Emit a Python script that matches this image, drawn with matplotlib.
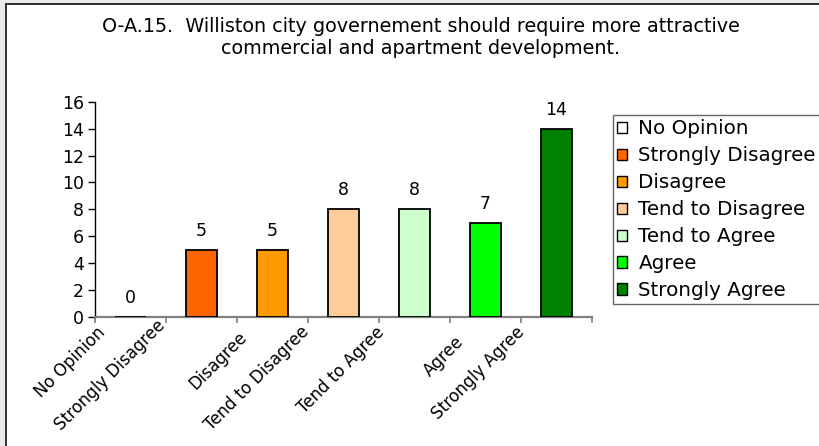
import matplotlib
matplotlib.use("Agg")
import matplotlib.pyplot as plt
from matplotlib.patches import Rectangle, Patch
from matplotlib.transforms import blended_transform_factory

# ---- data ----
categories = ["No Opinion", "Strongly Disagree", "Disagree", "Tend to Disagree",
              "Tend to Agree", "Agree", "Strongly Agree"]
values = [0, 5, 5, 8, 8, 7, 14]
colors = ["#FFFFFF", "#FF6600", "#FF9900", "#FFCC99", "#CCFFCC", "#00FF00", "#008000"]
yticks = [0, 2, 4, 6, 8, 10, 12, 14, 16]
title = "O-A.15.  Williston city governement should require more attractive\ncommercial and apartment development."

# ---- layout (pixels in an 820x446 canvas) ----
W, H, DPI = 820, 446, 100
FONT = "DejaVu Sans"
plt.rcParams['font.family'] = [FONT]

fig = plt.figure(figsize=(W / DPI, H / DPI), dpi=DPI)
fig.patch.set_facecolor("white")

def fx(px):
    return px / W

def fy(py):
    return 1 - py / H

ax_left, ax_right, ax_top, ax_bottom = 95, 592, 101.7, 317
ax = fig.add_axes([fx(ax_left), fy(ax_bottom), fx(ax_right - ax_left), (ax_bottom - ax_top) / H])

x = list(range(len(categories)))
bars = ax.bar(x, values, width=0.43, color=colors, edgecolor="black", linewidth=1.3, zorder=3)
ax.set_xlim(-0.5, len(categories) - 0.5)
ax.set_ylim(0, 16)
ax.set_yticks(yticks)
ax.set_yticklabels([str(t) for t in yticks], fontsize=12.5)
ax.set_xticks([i - 0.5 for i in range(len(categories) + 1)])
ax.set_xticklabels([])
ax.tick_params(axis="y", direction="out", length=5, width=1, color="black", pad=3)
ax.tick_params(axis="x", direction="out", length=4, width=1.2, color="#808080")
for s in ["top", "right"]:
    ax.spines[s].set_visible(False)
ax.spines["left"].set_color("black")
ax.spines["left"].set_linewidth(1)
ax.spines["bottom"].set_color("#808080")
ax.spines["bottom"].set_linewidth(1.6)

# value labels
for xi, v in zip(x, values):
    ax.annotate(str(v), (xi, v), xytext=(0, 13.7), textcoords="offset points",
                ha="center", va="center", fontsize=12.5)

# rotated category labels (end points in pixels)
label_ends = [(96, 323), (156, 316), (238, 328), (300, 323), (375, 323), (455, 333), (515, 323)]
trans = blended_transform_factory(ax.transData, ax.transAxes)
for cat, (px, py) in zip(categories, label_ends):
    xd = (px - ax_left) / ((ax_right - ax_left) / len(categories)) - 0.5
    ya = -(py - ax_bottom) / (ax_bottom - ax_top)
    ax.text(xd, ya, cat, transform=trans, rotation=45, rotation_mode="anchor",
            ha="right", va="top", fontsize=12, clip_on=False)

# title
fig.text(fx(421), fy(37.5), title, ha="center", va="center", fontsize=13.8,
         linespacing=1.15)

# legend
handles = [Patch(facecolor=c, edgecolor="black", linewidth=1) for c in colors]
leg = fig.legend(handles, categories, loc="upper left",
                 bbox_to_anchor=(fx(613), fy(115)), bbox_transform=fig.transFigure,
                 borderaxespad=0, fontsize=14.3, handlelength=0.48, handleheight=0.48,
                 handletextpad=0.58, labelspacing=0.4, borderpad=0.22,
                 frameon=True, fancybox=False, shadow=False)
leg.get_frame().set_edgecolor("#404040")
leg.get_frame().set_linewidth(1)

# image border (gray margin + dark frame line)
fig.patches.append(Rectangle((0, 0), fx(5), 1, transform=fig.transFigure,
                             facecolor="#E8EAED", edgecolor="none", zorder=10))
fig.patches.append(Rectangle((0, fy(3)), 1, 3 / H, transform=fig.transFigure,
                             facecolor="#E8EAED", edgecolor="none", zorder=10))
fig.patches.append(Rectangle((fx(5), 0), fx(2), fy(3), transform=fig.transFigure,
                             facecolor="#333333", edgecolor="none", zorder=10))
fig.patches.append(Rectangle((fx(5), fy(5)), 1, 2 / H, transform=fig.transFigure,
                             facecolor="#333333", edgecolor="none", zorder=10))

fig.savefig("out.png", dpi=DPI)
